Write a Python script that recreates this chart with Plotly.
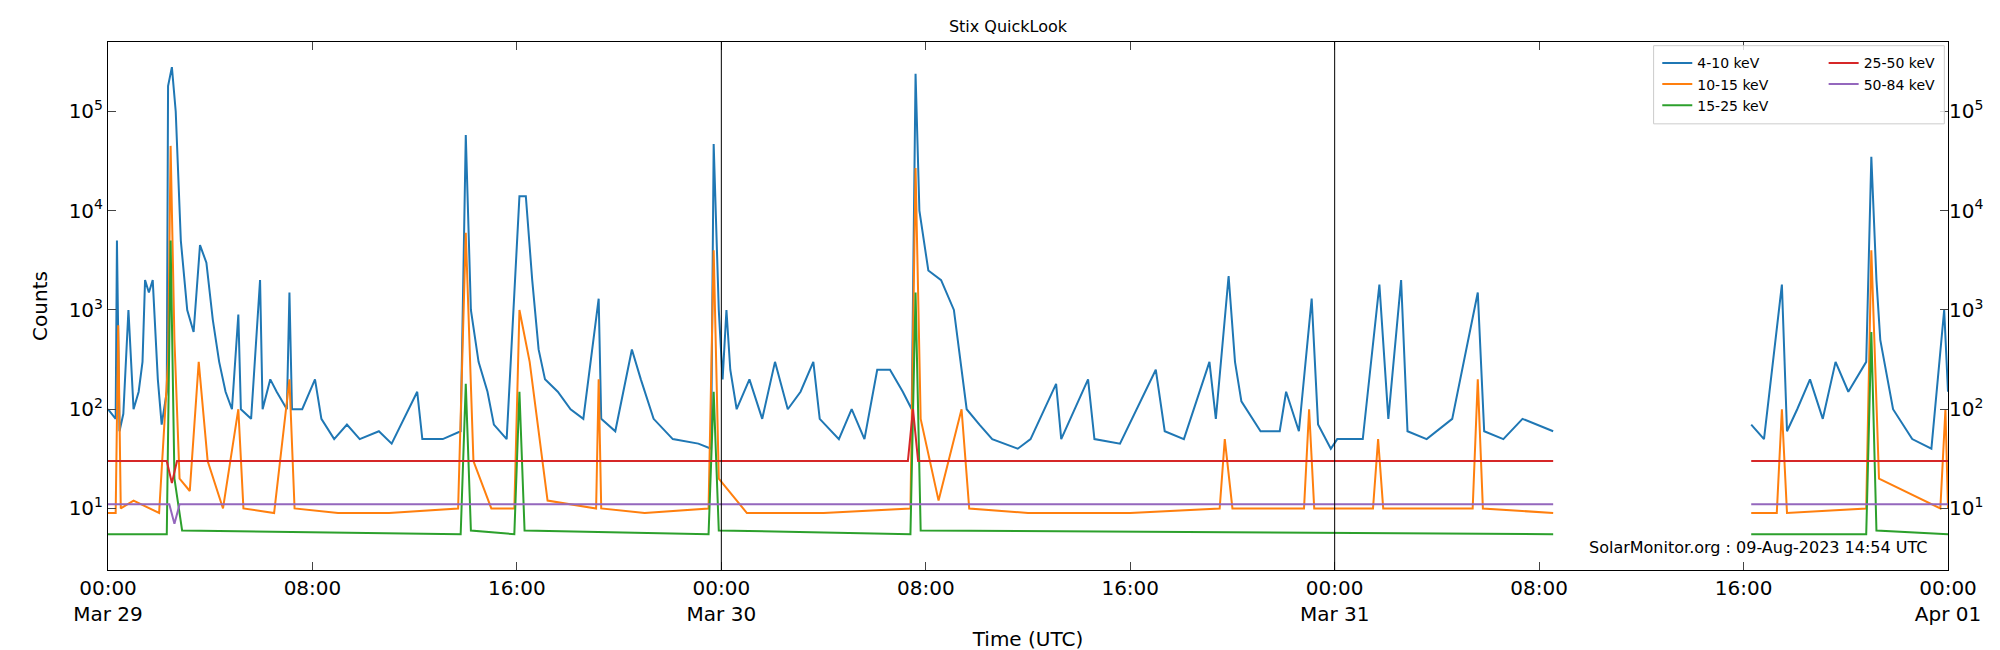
import pandas as pd
import plotly.graph_objects as go

START = pd.Timestamp("2023-03-29 00:00")

# hours since start, counts (None = data gap)
blue_h = [0, 0.3, 0.35, 0.45, 0.6, 0.8, 1.0, 1.2, 1.35, 1.45, 1.6, 1.75, 1.95, 2.1, 2.3, 2.35, 2.5, 2.65, 2.85, 3.1, 3.35, 3.6, 3.85, 4.1, 4.35, 4.6, 4.85, 5.1, 5.2, 5.6, 5.95, 6.05, 6.35, 6.6, 7.0, 7.1, 7.2, 7.6, 8.1, 8.35, 8.85, 9.35, 9.85, 10.6, 11.1, 12.1, 12.3, 13.1, 13.8, 14.0, 14.2, 14.5, 14.85, 15.1, 15.6, 16.1, 16.35, 16.6, 16.85, 17.1, 17.6, 18.1, 18.6, 19.2, 19.3, 19.85, 20.5, 20.85, 21.35, 22.1, 23.1, 23.6, 23.7, 23.9, 24.05,
          24.2, 24.35, 24.6, 25.1, 25.6, 26.1, 26.6, 27.1, 27.6, 27.85, 28.6, 29.1, 29.6, 30.1, 30.6, 31.1, 31.45, 31.6, 31.75, 32.1, 32.6, 33.1, 33.35, 33.6, 34.1, 34.6, 35.6, 36.1, 37.1, 37.3, 38.35, 38.6, 39.6, 41.0, 41.35, 42.1, 43.1, 43.35, 43.85, 44.1, 44.35, 45.1, 45.85, 46.1, 46.6, 47.1, 47.35, 47.85,
          48.1, 49.1, 49.75, 50.1, 50.6, 50.85, 51.6, 52.6, 53.6, 53.85, 54.6, 55.35, 56.55, 56.6, 64.3, 64.8, 65.5, 65.7, 66.1, 66.6, 67.1, 67.6, 68.1, 68.8, 69.0, 69.2, 69.35, 69.85, 70.6, 71.35, 71.85, 72.0]
blue_v = [100, 80, 5000, 60, 90, 1000, 100, 150, 300, 2000, 1500, 2000, 200, 70, 150, 180000, 280000, 100000, 5000, 1000, 600, 4500, 3000, 800, 300, 150, 100, 900, 100, 80, 2000, 100, 200, 150, 100, 1500, 100, 100, 200, 80, 50, 70, 50, 60, 45, 150, 50, 50, 60, 58000, 1000, 300, 150, 70, 50, 14000, 14000, 2000, 400, 200, 150, 100, 80, 1300, 80, 60, 400, 200, 80, 50, 45, 40, 47000, 1000, 200,
          1000, 250, 100, 200, 80, 300, 100, 150, 300, 80, 50, 100, 50, 250, 250, 150, 100, 240000, 10000, 2500, 2000, 1000, 300, 100, 70, 50, 40, 50, 180, 50, 200, 50, 45, 250, 60, 50, 300, 80, 2200, 300, 120, 60, 60, 150, 60, 1300, 70, 40,
          50, 50, 1800, 80, 2000, 60, 50, 80, 1500, 60, 50, 80, 60, None, 70, 50, 1800, 60, 100, 200, 80, 300, 150, 300, 35000, 2000, 500, 100, 50, 40, 1000, 150]

orange_h = [0, 0.3, 0.4, 0.5, 1.0, 2.0, 2.35, 2.45, 2.6, 2.8, 3.2, 3.55, 3.9, 4.5, 5.1, 5.3, 6.5, 7.1, 7.3, 9, 11, 13.7, 14.0, 14.3, 15, 15.9, 16.1, 16.5, 17.2, 19.1, 19.2, 19.3, 21, 23.5, 23.7, 23.9, 25, 28, 31.4, 31.6, 31.8, 32.5, 33.4, 33.7, 36, 40, 43.5, 43.7, 44, 46.8, 47.0, 47.2, 49.5, 49.7, 49.9, 53.4, 53.6, 53.8, 56.55, 56.6, 64.3, 65.3, 65.5, 65.7, 68.8, 69.0, 69.3, 71.7, 71.9, 72.0]
orange_v = [9, 9, 700, 10, 12, 9, 300, 45000, 500, 20, 15, 300, 30, 10, 100, 10, 9, 200, 10, 9, 9, 10, 6000, 30, 10, 10, 1000, 300, 12, 10, 200, 10, 9, 10, 4000, 20, 9, 9, 10, 27000, 80, 12, 100, 10, 9, 9, 10, 50, 10, 10, 100, 10, 10, 50, 10, 10, 200, 10, 9, None, 9, 9, 100, 9, 10, 4000, 20, 10, 100, 10]

green_h = [0, 2.3, 2.45, 2.6, 2.9, 13.8, 14.0, 14.2, 15.9, 16.1, 16.3, 23.5, 23.7, 23.9, 31.4, 31.6, 31.8, 56.55, 56.6, 64.3, 68.8, 69.0, 69.2, 72.0]
green_v = [5.5, 5.5, 5000, 20, 6, 5.5, 180, 6, 5.5, 150, 6, 5.5, 150, 6, 5.5, 1500, 6, 5.5, None, 5.5, 5.5, 600, 6, 5.5]

red_h = [0, 2.3, 2.5, 2.7, 31.3, 31.5, 31.7, 56.55, 56.6, 64.3, 72.0]
red_v = [30, 30, 18, 30, 30, 100, 30, 30, None, 30, 30]

purple_h = [0, 2.4, 2.6, 2.8, 56.55, 56.6, 64.3, 72.0]
purple_v = [11, 11, 7, 11, 11, None, 11, 11]

tick_hours = list(range(0, 73, 8))
tick_text = ["00:00<br>Mar 29", "08:00", "16:00", "00:00<br>Mar 30", "08:00", "16:00",
             "00:00<br>Mar 31", "08:00", "16:00", "00:00<br>Apr 01"]
y_ticks = [10, 100, 1000, 1e4, 1e5]
y_text = ["10<sup>1</sup>", "10<sup>2</sup>", "10<sup>3</sup>", "10<sup>4</sup>", "10<sup>5</sup>"]


def to_time(hours):
    return [START + pd.Timedelta(hours=h) for h in hours]


fig = go.Figure()
series = [
    ("4-10 keV", blue_h, blue_v, "#1f77b4", "legend"),
    ("10-15 keV", orange_h, orange_v, "#ff7f0e", "legend"),
    ("15-25 keV", green_h, green_v, "#2ca02c", "legend"),
    ("25-50 keV", red_h, red_v, "#d62728", "legend2"),
    ("50-84 keV", purple_h, purple_v, "#9467bd", "legend2"),
]
for name, h, v, c, lg in series:
    fig.add_trace(go.Scatter(x=to_time(h), y=v, mode="lines", name=name, legend=lg,
                             line=dict(color=c, width=2), connectgaps=False))

# invisible trace to drive the mirrored right axis
fig.add_trace(go.Scatter(x=[START], y=[None], yaxis="y2", showlegend=False, hoverinfo="skip"))

for d in ["2023-03-30", "2023-03-31"]:
    fig.add_vline(x=pd.Timestamp(d), line_color="black", line_width=1)

# one frame around both legend columns
fig.add_shape(type="rect", xref="paper", yref="paper", x0=0.840, x1=0.998, y0=0.845, y1=0.993,
              line=dict(color="#cccccc", width=1), fillcolor="rgba(255,255,255,0.8)", layer="above")

fig.add_annotation(text="SolarMonitor.org : 09-Aug-2023 14:54 UTC", xref="paper", yref="paper",
                   x=0.99, y=0.02, xanchor="right", yanchor="bottom", showarrow=False,
                   font=dict(size=16, color="black"))

logax = dict(type="log", range=[0.38, 5.7], tickvals=y_ticks, ticktext=y_text,
             ticks="inside", ticklen=8, showgrid=False, tickfont=dict(size=20), zeroline=False)

fig.update_xaxes(range=[START, START + pd.Timedelta(hours=72)], tickvals=to_time(tick_hours),
                 ticktext=tick_text, ticks="inside", ticklen=8, showline=True, mirror="ticks",
                 linecolor="black", showgrid=False, tickfont=dict(size=20),
                 title=dict(text="Time (UTC)", font=dict(size=20), standoff=6), zeroline=False)
fig.update_yaxes(showline=True, mirror="ticks", linecolor="black",
                 title=dict(text="Counts", font=dict(size=20)), **logax)

legend_style = dict(yanchor="top", orientation="v", borderwidth=0,
                    font=dict(size=14), bgcolor="rgba(0,0,0,0)")
fig.update_layout(
    width=2000, height=650, plot_bgcolor="white", paper_bgcolor="white",
    margin=dict(l=100, r=60, t=34, b=86),
    title=dict(text="Stix QuickLook", x=0.5, y=0.98, font=dict(size=16, color="black")),
    font=dict(family="DejaVu Sans", color="black"),
    yaxis2=dict(overlaying="y", side="right", **logax),
    legend=dict(x=0.842, y=0.99, xanchor="left", **legend_style),
    legend2=dict(x=0.996, y=0.99, xanchor="right", **legend_style),
    showlegend=True,
)
fig.write_html("out.html")
